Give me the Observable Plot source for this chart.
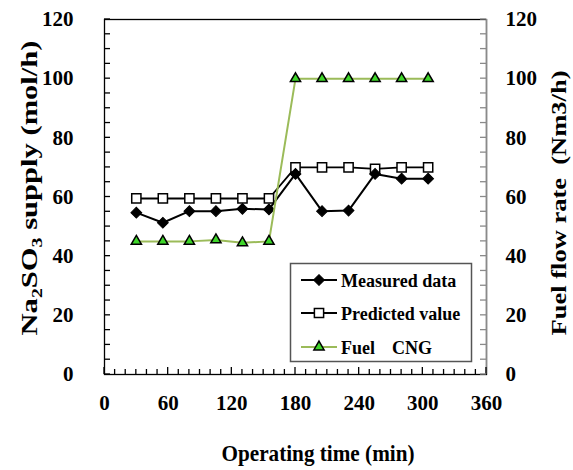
<!DOCTYPE html>
<html><head><meta charset="utf-8">
<script src="https://cdn.jsdelivr.net/npm/d3@7"></script>
<script src="https://cdn.jsdelivr.net/npm/@observablehq/plot@0.6"></script>
<style>
html,body{margin:0;padding:0;background:#fff;}
#chart{width:573px;height:470px;}
</style>
</head><body><div id="chart"></div>
<script>
// ---- data ----
const times = [30, 55, 80, 105, 130, 155, 180, 205, 230, 255, 280, 305];
const measured = [54.7, 51.3, 55.2, 55.2, 56.0, 55.8, 67.8, 55.2, 55.4, 67.8, 66.2, 66.2];
const predicted = [59.5, 59.5, 59.5, 59.5, 59.5, 59.5, 70, 70, 70, 69.5, 70, 70];
const fuel = [45, 45, 45, 45.5, 44.5, 45, 100, 100, 100, 100, 100, 100];
const seriesNames = ["Measured data", "Predicted value", "Fuel", "CNG"];
const xTicks = [0, 60, 120, 180, 240, 300, 360];
const yTicks = [0, 20, 40, 60, 80, 100, 120];
const xMinorTicks = d3.range(0, 361, 10);
const yMinorTicks = d3.range(0, 121, 5);
const xDomain = [0, 360];
const yDomain = [0, 120];
const xTitle = "Operating time (min)";
const yLeftTitleParts = [["Na", false], ["2", true], ["SO", false], ["3", true], [" supply (mol/h)", false]];
const yRightTitle = "Fuel flow rate\u00a0\u00a0(Nm3/h)";

// ---- layout ----
const W = 573, H = 470, mL = 104, mR = 87, mT = 19, mB = 96;
const font = "'Liberation Serif','Times New Roman',serif";
const fuelLine = "#9bbb59", fuelFill = "#3fd62a";

const rows = times.map((t, i) => ({t, measured: measured[i], predicted: predicted[i], fuel: fuel[i]}));

const plot = Plot.plot({
  width: W, height: H, marginLeft: mL, marginRight: mR, marginTop: mT, marginBottom: mB,
  x: {domain: xDomain},
  y: {domain: yDomain},
  style: {fontFamily: font, fontWeight: "bold", fontSize: "21px", color: "black", background: "white"},
  marks: [
    Plot.frame({stroke: "black", strokeWidth: 1.3}),
    Plot.ruleX([xDomain[1]], {stroke: "#8a8a8a", strokeWidth: 1.3}),
    // tick labels
    Plot.axisX({ticks: xTicks, tickSize: 0, tickPadding: 21, label: null}),
    Plot.axisY({anchor: "left", ticks: yTicks, tickSize: 0, tickPadding: 31, label: null}),
    Plot.axisY({anchor: "right", ticks: yTicks, tickSize: 0, tickPadding: 19, label: null}),
    // series
    Plot.line(rows, {x: "t", y: "predicted", stroke: "black", strokeWidth: 1.8}),
    Plot.dot(rows, {x: "t", y: "predicted", symbol: "square", r: 5.2, fill: "white", stroke: "black", strokeWidth: 1.5}),
    Plot.line(rows, {x: "t", y: "measured", stroke: "black", strokeWidth: 2}),
    Plot.dot(rows, {x: "t", y: "measured", symbol: "square", rotate: 45, r: 4.3, fill: "black", stroke: "black", strokeWidth: 1}),
    Plot.line(rows, {x: "t", y: "fuel", stroke: fuelLine, strokeWidth: 2}),
    Plot.dot(rows, {x: "t", y: "fuel", symbol: "triangle", r: 3.8, fill: fuelFill, stroke: "black", strokeWidth: 1.5})
  ]
});

document.getElementById("chart").appendChild(plot);

const svg = d3.select(plot);
const sx = plot.scale("x"), sy = plot.scale("y");
const x0 = sx.apply(xDomain[0]), x1 = sx.apply(xDomain[1]);
const y0 = sy.apply(yDomain[0]);

// ---- inward ticks, positioned by Plot's own scales ----
const tg = svg.append("g").attr("fill", "none");
xMinorTicks.forEach(v => {
  const px = sx.apply(v);
  const len = xTicks.includes(v) ? 7 : 5;
  tg.append("line").attr("x1", px).attr("x2", px).attr("y1", y0).attr("y2", y0 - len)
    .attr("stroke", "black").attr("stroke-width", 1.3);
});
yMinorTicks.forEach(v => {
  const py = sy.apply(v);
  tg.append("line").attr("x1", x0).attr("x2", x0 + 6).attr("y1", py).attr("y2", py)
    .attr("stroke", "black").attr("stroke-width", 1.3);
  tg.append("line").attr("x1", x1 - 6).attr("x2", x1).attr("y1", py).attr("y2", py)
    .attr("stroke", "#8a8a8a").attr("stroke-width", 1.3);
});

// ---- titles ----
svg.append("text")
  .attr("x", 318).attr("y", 461)
  .attr("text-anchor", "middle")
  .attr("font-family", font).attr("font-weight", "bold").attr("font-size", 24)
  .attr("textLength", 193).attr("lengthAdjust", "spacingAndGlyphs")
  .attr("fill", "black")
  .text(xTitle);

const lt = svg.append("text")
  .attr("transform", "translate(37,188) rotate(-90)")
  .attr("text-anchor", "middle")
  .attr("font-family", font).attr("font-weight", "bold").attr("font-size", 23)
  .attr("textLength", 295).attr("lengthAdjust", "spacingAndGlyphs")
  .attr("fill", "black");
let first = true;
yLeftTitleParts.forEach(([s, sub]) => {
  const ts = lt.append("tspan").text(s);
  if (sub) ts.attr("font-size", 15).attr("dy", 5);
  else { if (!first) ts.attr("dy", -5); }
  first = false;
});

svg.append("text")
  .attr("transform", "translate(566,203) rotate(-90)")
  .attr("text-anchor", "middle")
  .attr("font-family", font).attr("font-weight", "bold").attr("font-size", 21)
  .attr("textLength", 265).attr("lengthAdjust", "spacingAndGlyphs")
  .attr("fill", "black")
  .text(yRightTitle);

// ---- legend ----
const lg = svg.append("g").attr("text-anchor", "start");
lg.append("rect").attr("x", 290.5).attr("y", 263.5).attr("width", 181).attr("height", 98)
  .attr("fill", "white").attr("stroke", "#555").attr("stroke-width", 1.5);
const legendItems = [
  {y: 280, stroke: "black", sym: d3.symbolSquare, r: 4.3, rot: 45, fill: "black", mstroke: "black", sw: 1, label: seriesNames[0]},
  {y: 313, stroke: "black", sym: d3.symbolSquare, r: 5.2, rot: 0, fill: "white", mstroke: "black", sw: 1.5, label: seriesNames[1]},
  {y: 347, stroke: fuelLine, sym: d3.symbolTriangle, r: 3.8, rot: 0, fill: fuelFill, mstroke: "black", sw: 1.5, label: seriesNames[2], extra: seriesNames[3]}
];
legendItems.forEach(it => {
  lg.append("line").attr("x1", 301).attr("x2", 337).attr("y1", it.y).attr("y2", it.y)
    .attr("stroke", it.stroke).attr("stroke-width", 2);
  lg.append("path").attr("d", d3.symbol(it.sym, Math.PI * it.r * it.r)())
    .attr("transform", `translate(319,${it.y}) rotate(${it.rot})`)
    .attr("fill", it.fill).attr("stroke", it.mstroke).attr("stroke-width", it.sw);
  const t = lg.append("text").attr("x", 341).attr("y", it.y + 7)
    .attr("text-anchor", "start")
    .attr("font-family", font).attr("font-weight", "bold").attr("font-size", 18).attr("fill", "black")
    .text(it.label);
  if (it.extra) t.append("tspan").attr("x", 392).text(it.extra);
});
</script>
</body></html>
